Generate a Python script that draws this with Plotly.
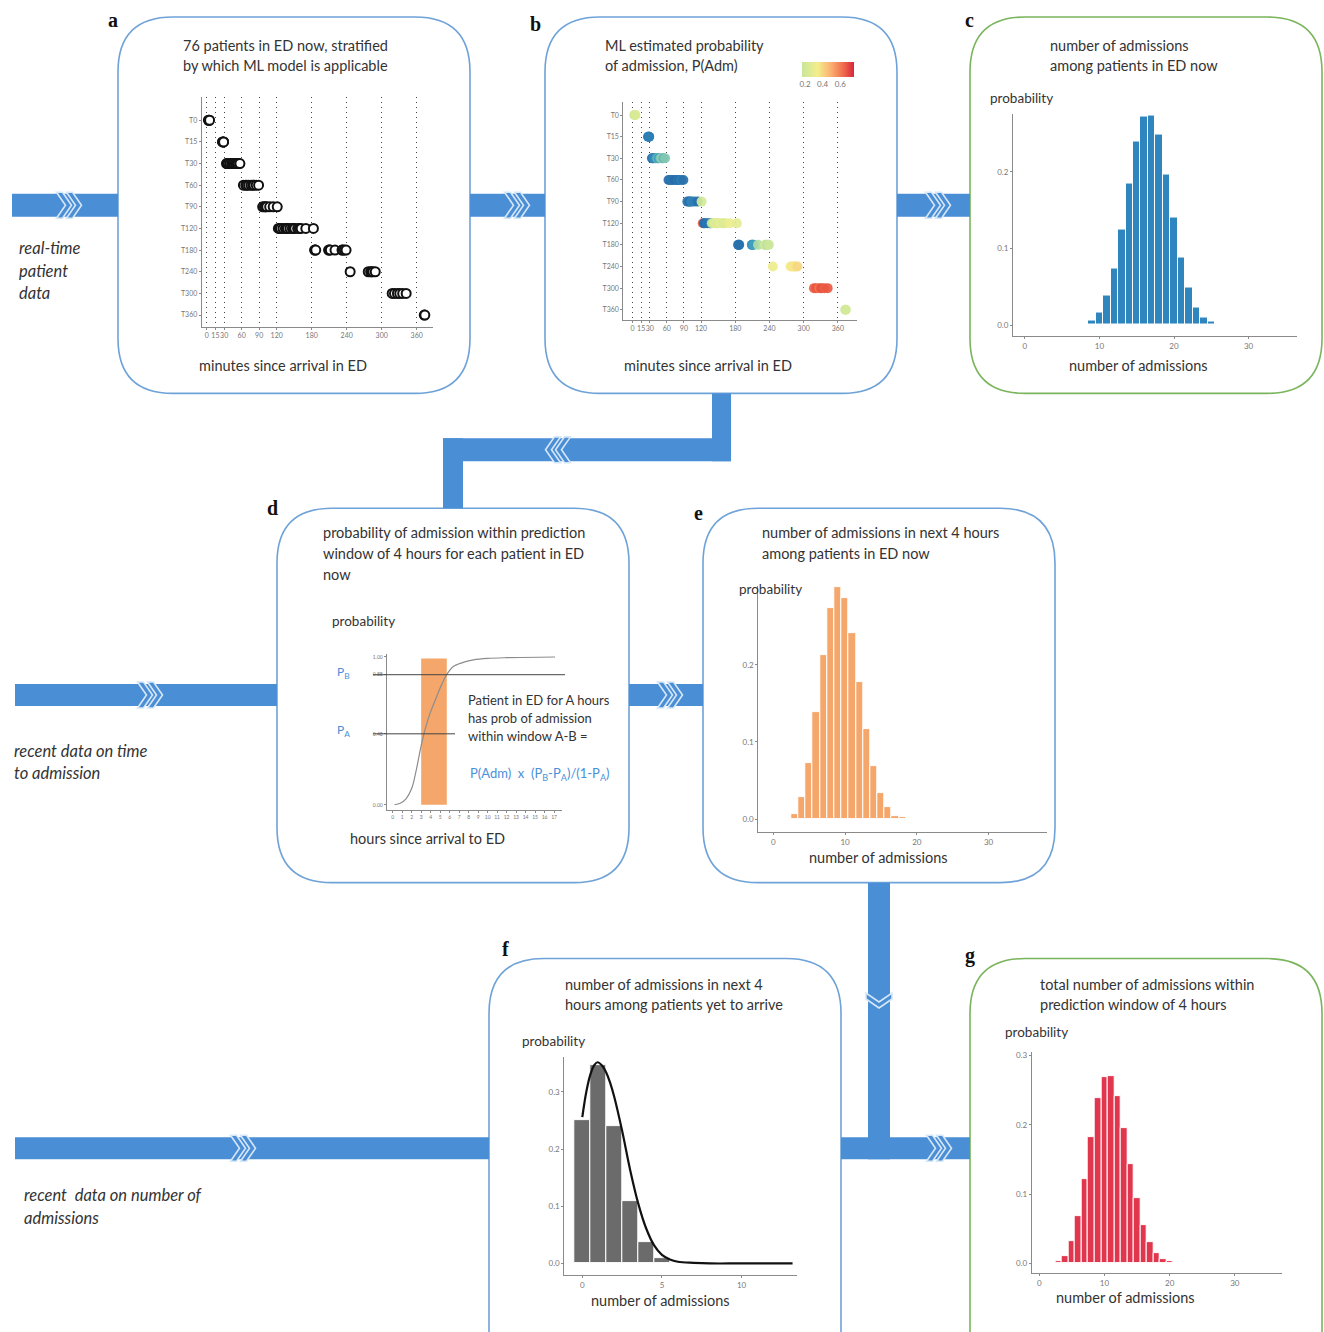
import plotly.graph_objects as go

W, H = 1324, 1332
FONT = "Lato, 'Open Sans', sans-serif"
TXT = "#333333"
ARROW = "#4a8ed6"
BLUE_EDGE = "#6fa3d8"
GREEN_EDGE = "#7ab55c"

# ---------------- data ----------------
model_rows = ["T0", "T15", "T30", "T60", "T90", "T120", "T180", "T240", "T300", "T360"]
minute_ticks = [0, 15, 30, 60, 90, 120, 180, 240, 300, 360]

# minutes since arrival of each patient, grouped by applicable model
mins_T0 = [3, 4, 5]
mins_T15 = [27, 28, 29, 29]
mins_T30 = [34, 35, 37, 40, 43, 44, 46, 49, 51, 52, 54, 57]
mins_T60 = [63, 67, 69, 72, 76, 79, 81, 85, 89]
mins_T90 = [96, 99, 101, 103, 108, 114, 121]
mins_T120 = [123, 125, 127, 131, 135, 137, 139, 143, 147, 149, 151, 156, 159, 162, 170, 183]
mins_T180 = [185, 186, 187, 209, 210, 212, 220, 232, 233, 236, 239]
mins_T240 = [246, 277, 281, 283, 285, 289]
mins_T300 = [318, 322, 327, 331, 336, 342]
mins_T360 = [373, 374]

# ML estimated probability of admission for the same patients
padm_T0 = [0.30, 0.28, 0.32]
padm_T15 = [0.06, 0.08, 0.05, 0.07]
padm_T30 = [0.04, 0.06, 0.08, 0.10, 0.14, 0.16, 0.12, 0.18, 0.20, 0.22, 0.15, 0.19]
padm_T60 = [0.04, 0.05, 0.06, 0.05, 0.04, 0.06, 0.05, 0.07, 0.05]
padm_T90 = [0.05, 0.06, 0.04, 0.08, 0.07, 0.05, 0.30]
padm_T120 = [0.62, 0.04, 0.05, 0.06, 0.05, 0.08, 0.30, 0.32, 0.34, 0.30, 0.33, 0.35, 0.31, 0.33, 0.36, 0.34]
padm_T180 = [0.05, 0.06, 0.05, 0.10, 0.09, 0.12, 0.25, 0.28, 0.30, 0.26, 0.29]
padm_T240 = [0.36, 0.38, 0.40, 0.37, 0.39, 0.42]
padm_T300 = [0.62, 0.65, 0.60, 0.66, 0.63, 0.64]
padm_T360 = [0.28, 0.30]

mins_by_row = [mins_T0, mins_T15, mins_T30, mins_T60, mins_T90,
               mins_T120, mins_T180, mins_T240, mins_T300, mins_T360]
padm_by_row = [padm_T0, padm_T15, padm_T30, padm_T60, padm_T90,
               padm_T120, padm_T180, padm_T240, padm_T300, padm_T360]

# c: admissions among patients in ED now
ed_now_n = list(range(9, 26))
ed_now_p = [0.006, 0.016, 0.038, 0.074, 0.125, 0.184, 0.239, 0.272, 0.274,
            0.248, 0.197, 0.140, 0.088, 0.049, 0.023, 0.010, 0.005]

# d: cumulative probability of admission by hours since arrival
hours = [0.2, 0.8, 1.4, 2.0, 2.5, 3.0, 3.5, 4.0, 4.5, 5.0, 5.5, 6.0, 6.5, 7.5, 8.5, 10, 12, 17.1]
cum_prob = [0.0, 0.01, 0.04, 0.11, 0.24, 0.40, 0.53, 0.63, 0.71, 0.79, 0.86, 0.91,
            0.94, 0.965, 0.98, 0.99, 0.995, 1.0]
hour_A, hour_B = 3.0, 5.7
P_A, P_B = 0.48, 0.88

# e: admissions in next 4 hours among patients in ED now
window_n = list(range(3, 19))
window_p = [0.007, 0.029, 0.073, 0.138, 0.212, 0.273, 0.301, 0.287, 0.241,
            0.178, 0.117, 0.068, 0.034, 0.015, 0.004, 0.002]

# f: admissions in next 4 hours among patients yet to arrive
arrive_n = [0, 1, 2, 3, 4, 5, 6]
arrive_p = [0.251, 0.347, 0.240, 0.109, 0.037, 0.010, 0.003]
fit_x = [0, 0.25, 0.5, 0.75, 0.95, 1.25, 1.5, 1.75, 2, 2.5, 3, 3.5, 4, 4.5, 5,
         5.5, 6, 7, 8, 10, 13.2]
fit_p = [0.256, 0.300, 0.330, 0.347, 0.352, 0.346, 0.334, 0.316, 0.292, 0.232,
         0.164, 0.106, 0.062, 0.032, 0.015, 0.007, 0.003, 0.001, 0, 0, 0]

# g: total admissions within the prediction window
total_n = list(range(3, 21))
total_p = [0.004, 0.011, 0.032, 0.068, 0.122, 0.183, 0.238, 0.269, 0.271,
           0.241, 0.195, 0.143, 0.094, 0.056, 0.031, 0.015, 0.006, 0.003]


# ---------------- helpers (pixel -> paper) ----------------
def dx(a, b):
    return [a / W, b / W]


def dy(top, bottom):
    return [1 - bottom / H, 1 - top / H]


def P(x, y):
    return f"{x / W:.5f},{1 - y / H:.5f}"


shapes = []
annotations = []


def box(l, t, r, b, color, rad=55):
    d = (f"M{P(l + rad, t)} L{P(r - rad, t)} Q{P(r, t)} {P(r, t + rad)} "
         f"L{P(r, b - rad)} Q{P(r, b)} {P(r - rad, b)} L{P(l + rad, b)} "
         f"Q{P(l, b)} {P(l, b - rad)} L{P(l, t + rad)} Q{P(l, t)} {P(l + rad, t)} Z")
    shapes.append(dict(type="path", path=d, xref="paper", yref="paper",
                       line=dict(color=color, width=1.6),
                       fillcolor="rgba(0,0,0,0)", layer="below"))


def bar(x0, y0, x1, y1):
    shapes.append(dict(type="rect", xref="paper", yref="paper",
                       x0=x0 / W, x1=x1 / W, y0=1 - y1 / H, y1=1 - y0 / H,
                       fillcolor=ARROW, line=dict(width=0), layer="below"))


def chevron(cx, cy, d):
    s, t, k = 13, 6, 9
    pts = [(-k / 2, -s), (-k / 2 + t, -s), (k / 2 + t, 0),
           (-k / 2 + t, s), (-k / 2, s), (k / 2, 0)]
    out = []
    for u, v in pts:
        if d == "r":
            out.append((cx + u, cy + v))
        elif d == "l":
            out.append((cx - u, cy + v))
        else:
            out.append((cx + v, cy + u))
    path = "M" + " L".join(P(x, y) for x, y in out) + " Z"
    shapes.append(dict(type="path", path=path, xref="paper", yref="paper",
                       fillcolor=ARROW, line=dict(color="#d6e7f8", width=1.6),
                       layer="below"))


def double_chevron(cx, cy, d):
    step = 10
    if d == "r":
        chevron(cx, cy, d); chevron(cx + step, cy, d)
    elif d == "l":
        chevron(cx + step, cy, d); chevron(cx, cy, d)
    else:
        chevron(cx, cy, d)


def text(x, y, s, size=14.5, color=TXT, anchor="left", family=FONT):
    annotations.append(dict(x=x / W, y=1 - y / H, xref="paper", yref="paper",
                            text=s, showarrow=False, xanchor=anchor,
                            yanchor="middle",
                            font=dict(size=size, color=color, family=family)))


# ---------------- panel frames ----------------
box(118, 15, 470, 392, BLUE_EDGE)
box(545, 15, 897, 392, BLUE_EDGE)
box(970, 15, 1322, 392, GREEN_EDGE)
box(277, 507, 629, 882, BLUE_EDGE)
box(703, 507, 1055, 882, BLUE_EDGE)
box(489, 958, 841, 1400, BLUE_EDGE)
box(970, 958, 1322, 1400, GREEN_EDGE)

# ---------------- flow arrows ----------------
bar(12, 192, 118, 215)
bar(470, 192, 545, 215)
bar(897, 192, 970, 215)
bar(712, 392, 731, 460)
bar(443, 437, 731, 460)
bar(443, 437, 463, 507)
bar(15, 683, 277, 705)
bar(629, 683, 703, 705)
bar(868, 882, 890, 1159)
bar(841, 1137, 970, 1159)
bar(15, 1137, 489, 1159)

double_chevron(61, 203.5, "r")
double_chevron(509, 203.5, "r")
double_chevron(930, 203.5, "r")
double_chevron(556, 448.5, "l")
double_chevron(142, 694, "r")
double_chevron(662, 694, "r")
double_chevron(879, 997, "d")
double_chevron(931, 1148, "r")
double_chevron(235, 1148, "r")

# ---------------- texts ----------------
for s, x, y in [("a", 113, 18), ("b", 535, 22), ("c", 970, 18), ("d", 272, 507),
                ("e", 698, 512), ("f", 505, 948), ("g", 970, 955)]:
    text(x, y, f"<b>{s}</b>", size=20, color="#111", anchor="center",
         family="'Liberation Serif', serif")

text(285, 44, "76 patients in ED now, stratified", anchor="center")
text(285, 64, "by which ML model is applicable", anchor="center")
text(603, 44, "ML estimated probability")
text(603, 64, "of admission, P(Adm)")
text(1048, 44, "number of admissions")
text(1048, 64, "among patients in ED now")
text(321, 531, "probability of admission within prediction")
text(321, 552, "window of 4 hours for each patient in ED")
text(321, 573, "now")
text(760, 531, "number of admissions in next 4 hours")
text(760, 552, "among patients in ED now")
text(563, 984, "number of admissions in next 4")
text(563, 1004, "hours among patients yet to arrive")
text(1038, 984, "total number of admissions within")
text(1038, 1004, "prediction window of 4 hours")

text(283, 364, "minutes since arrival in ED", anchor="center")
text(708, 364, "minutes since arrival in ED", anchor="center")
text(1138, 364, "number of admissions", anchor="center")
text(427, 838, "hours since arrival to ED", anchor="center")
text(878, 857, "number of admissions", anchor="center")
text(660, 1300, "number of admissions", anchor="center")
text(1125, 1297, "number of admissions", anchor="center")

for x, y in [(988, 96), (330, 620), (737, 588), (520, 1041), (1003, 1032)]:
    text(x, y, "probability", size=13.5)

for s, x, y in [("real-time", 17, 246), ("patient", 17, 269), ("data", 17, 291),
                ("recent data on time", 12, 750), ("to admission", 12, 772),
                ("recent  data on number of", 22, 1195), ("admissions", 22, 1218)]:
    text(x, y, f"<i>{s}</i>", size=16.5)

text(466, 699, "Patient in ED for A hours", size=13)
text(466, 717, "has prob of admission", size=13)
text(466, 735, "within window A-B =", size=13)
text(468, 773, "P(Adm)  x  (P<sub>B</sub>-P<sub>A</sub>)/(1-P<sub>A</sub>)",
     size=13, color="#4a90d9")

# ---------------- traces ----------------
fig = go.Figure()

xs, ys, ps = [], [], []
for i, (mins, probs) in enumerate(zip(mins_by_row, padm_by_row)):
    xs += mins
    ys += [i] * len(mins)
    ps += probs

# a: patients by applicable model
fig.add_trace(go.Scatter(x=xs, y=ys, mode="markers", xaxis="x", yaxis="y",
                         marker=dict(size=9, color="white",
                                     line=dict(color="#111", width=2)),
                         hoverinfo="skip"))

# b: same patients coloured by probability of admission
prob_scale = [[0.0, "#1d4f8f"], [0.08, "#2a78b3"], [0.16, "#3f9fc0"],
              [0.27, "#8fd0b0"], [0.40, "#d3ea98"], [0.50, "#f3ee8c"],
              [0.62, "#fbbf78"], [0.75, "#f58a5a"], [0.87, "#e8503e"],
              [1.0, "#d7263d"]]
fig.add_trace(go.Scatter(x=xs, y=ys, mode="markers", xaxis="x2", yaxis="y2",
                         marker=dict(size=10, color=ps, colorscale=prob_scale,
                                     cmin=0, cmax=0.75, opacity=0.92,
                                     line=dict(width=0)),
                         hoverinfo="skip"))
# colour key for the upper part of the probability scale
key_scale = [[0.0, "#c9e69a"], [0.3, "#f3ee8c"], [0.55, "#fbb272"],
             [0.8, "#ef6a4a"], [1.0, "#d7263d"]]
fig.add_trace(go.Scatter(x=[-500, -500], y=[0, 0], mode="markers",
                         xaxis="x2", yaxis="y2",
                         marker=dict(size=1, color=[0.16, 0.75],
                                     colorscale=key_scale, cmin=0.16, cmax=0.75,
                                     showscale=True,
                                     colorbar=dict(orientation="h",
                                                   x=827.5 / W, xanchor="center",
                                                   y=1 - 60 / H, yanchor="top",
                                                   len=52, lenmode="pixels",
                                                   thickness=15,
                                                   thicknessmode="pixels",
                                                   tickvals=[0.2, 0.4, 0.6],
                                                   ticks="", outlinewidth=0,
                                                   tickfont=dict(size=8, color="#777",
                                                                 family=FONT),
                                                   ypad=0, xpad=0)),
                         hoverinfo="skip"))

# c
fig.add_trace(go.Bar(x=ed_now_n, y=ed_now_p, width=1, xaxis="x3", yaxis="y3",
                     marker=dict(color="#2f86be", line=dict(color="white", width=1)),
                     hoverinfo="skip"))

# d: window rectangle, curve
shapes.append(dict(type="rect", xref="x7", yref="y7", x0=hour_A, x1=hour_B,
                   y0=0, y1=0.99, fillcolor="#f5a66a", line=dict(width=0),
                   layer="below"))
shapes.append(dict(type="line", xref="paper", yref="y7", x0=373 / W, x1=565 / W,
                   y0=P_B, y1=P_B, line=dict(color="#444", width=1)))
shapes.append(dict(type="line", xref="paper", yref="y7", x0=373 / W, x1=455 / W,
                   y0=P_A, y1=P_A, line=dict(color="#444", width=1)))
fig.add_trace(go.Scatter(x=hours, y=cum_prob, mode="lines", xaxis="x7", yaxis="y7",
                         line=dict(color="#8c8c8c", width=1.2, shape="spline"),
                         hoverinfo="skip"))
text(335, 672, "P<sub>B</sub>", size=12, color="#4a90d9")
text(335, 730, "P<sub>A</sub>", size=12, color="#4a90d9")

# e
fig.add_trace(go.Bar(x=window_n, y=window_p, width=1, xaxis="x4", yaxis="y4",
                     marker=dict(color="#f5a66a", line=dict(color="white", width=1)),
                     hoverinfo="skip"))

# f
fig.add_trace(go.Bar(x=arrive_n, y=arrive_p, width=1, xaxis="x5", yaxis="y5",
                     marker=dict(color="#6b6b6b", line=dict(color="white", width=1)),
                     hoverinfo="skip"))
fig.add_trace(go.Scatter(x=fit_x, y=fit_p, mode="lines", xaxis="x5", yaxis="y5",
                         line=dict(color="#111", width=2.2, shape="spline"),
                         hoverinfo="skip"))

# g
fig.add_trace(go.Bar(x=total_n, y=total_p, width=1, xaxis="x6", yaxis="y6",
                     marker=dict(color="#e0374e", line=dict(color="white", width=1)),
                     hoverinfo="skip"))


# ---------------- axes ----------------
def ax(domain, rng, anchor, size=8, **kw):
    d = dict(domain=domain, range=rng, anchor=anchor, showline=True,
             linecolor="#8a8a8a", linewidth=1, showgrid=False, zeroline=False,
             ticks="outside", ticklen=2, tickcolor="#8a8a8a", tickangle=0,
             tickfont=dict(size=size, color="#777", family=FONT), fixedrange=True)
    d.update(kw)
    return d


dot_grid = dict(showgrid=True, griddash="1.5px,3.5px", gridcolor="#444", gridwidth=1.3)

layout_axes = dict(
    xaxis=ax(dx(201.7, 433), [-8.5, 388], "y", size=7, tickvals=minute_ticks, **dot_grid),
    yaxis=ax(dy(95, 325), [9.53, -1.08], "x", size=7, tickvals=list(range(10)),
             ticktext=model_rows),
    xaxis2=ax(dx(623.3, 856.7), [-16.3, 393], "y2", size=7, tickvals=minute_ticks,
              **dot_grid),
    yaxis2=ax(dy(100, 318), [9.45, -0.61], "x2", size=7, tickvals=list(range(10)),
              ticktext=model_rows),
    xaxis3=ax(dx(1013, 1297), [-1.6, 36.5], "y3", tickvals=[0, 10, 20, 30]),
    yaxis3=ax(dy(111.7, 335), [-0.015, 0.276], "x3", tickvals=[0, 0.1, 0.2],
              tickformat=".1f"),
    xaxis4=ax(dx(758.3, 1046.7), [-2.09, 38.1], "y4", tickvals=[0, 10, 20, 30]),
    yaxis4=ax(dy(585, 831.7), [-0.0174, 0.302], "x4", tickvals=[0, 0.1, 0.2],
              tickformat=".1f"),
    xaxis5=ax(dx(564.3, 796.7), [-1.13, 13.46], "y5", tickvals=[0, 5, 10]),
    yaxis5=ax(dy(1056.7, 1275), [-0.0204, 0.361], "x5", tickvals=[0, 0.1, 0.2, 0.3],
              tickformat=".1f"),
    xaxis6=ax(dx(1031.7, 1281.7), [-1.17, 37.2], "y6", tickvals=[0, 10, 20, 30]),
    yaxis6=ax(dy(1051.7, 1273.3), [-0.0144, 0.305], "x6",
              tickvals=[0, 0.1, 0.2, 0.3], tickformat=".1f"),
    xaxis7=ax(dx(386.7, 561.7), [-0.63, 17.8], "y7", size=5, tickvals=list(range(18))),
    yaxis7=ax(dy(653, 809), [-0.034, 1.02], "x7", size=5, tickvals=[0, P_A, P_B, 1.0],
              tickformat=".2f"),
)

fig.update_layout(
    width=W, height=H, margin=dict(l=0, r=0, t=0, b=0),
    paper_bgcolor="white", plot_bgcolor="rgba(0,0,0,0)",
    showlegend=False, shapes=shapes, annotations=annotations,
    font=dict(family=FONT, color=TXT), bargap=0,
    **layout_axes,
)

fig.write_html("out.html")
